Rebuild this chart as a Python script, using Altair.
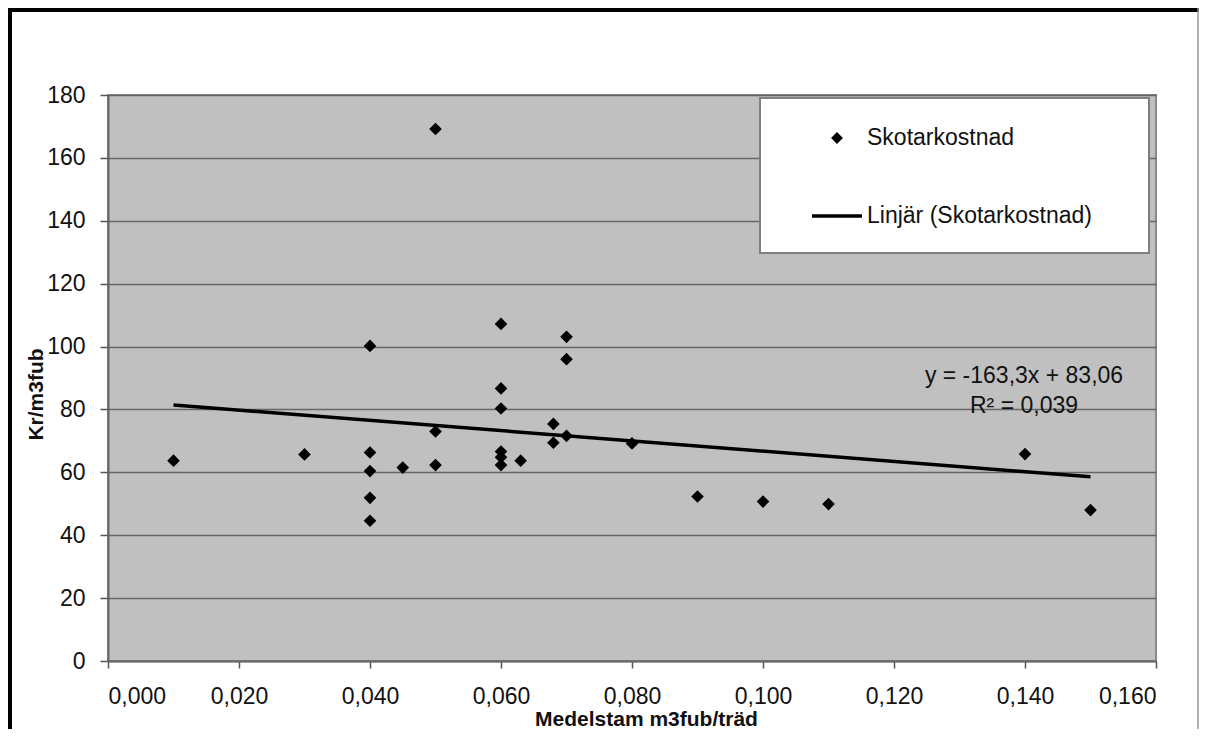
import altair as alt
import pandas as pd

# ---- data ----
x_vals = [0.010, 0.030, 0.040, 0.040, 0.040, 0.040, 0.040, 0.045,
          0.050, 0.050, 0.050, 0.060, 0.060, 0.060, 0.060, 0.060, 0.060,
          0.063, 0.068, 0.068, 0.070, 0.070, 0.070, 0.080, 0.090, 0.100,
          0.110, 0.140, 0.150]
y_vals = [63.7, 65.7, 100.2, 66.3, 60.4, 51.9, 44.6, 61.5,
          169.2, 73.0, 62.3, 107.2, 86.7, 80.3, 66.6, 64.8, 62.3,
          63.7, 75.4, 69.4, 103.1, 96.0, 71.6, 69.2, 52.3, 50.7,
          49.9, 65.8, 48.0]
trend_x = [0.010, 0.150]
trend_y = [81.43, 58.57]
x_ticks = [0.0, 0.02, 0.04, 0.06, 0.08, 0.10, 0.12, 0.14, 0.16]
y_ticks = [0, 20, 40, 60, 80, 100, 120, 140, 160, 180]
series_label = ["Skotarkostnad"]
trend_label = ["Linjär (Skotarkostnad)"]
eq_line1 = ["y = -163,3x + 83,06"]
eq_line2 = ["R² = 0,039"]
x_title = "Medelstam m3fub/träd"
y_title = "Kr/m3fub"

FONT = "Liberation Sans"
W, H = 1048, 566

pts = pd.DataFrame({"x": x_vals, "y": y_vals})
trd = pd.DataFrame({"x": trend_x, "y": trend_y})

x_enc = alt.X(
    "x:Q",
    scale=alt.Scale(domain=[0, 0.16], nice=False, zero=False),
    axis=alt.Axis(
        values=x_ticks,
        labelExpr="replace(format(datum.value, '.3f'), '.', ',')",
        grid=False,
        tickSize=7,
        labelPadding=17,
        title=x_title,
        titleX=538,
        titleY=47,
        titleAlign="center",
        titleBaseline="top",
    ),
)
y_enc = alt.Y(
    "y:Q",
    scale=alt.Scale(domain=[0, 180], nice=False),
    axis=alt.Axis(
        values=y_ticks,
        grid=True,
        tickSize=8,
        labelPadding=15,
        title=y_title,
        titleAngle=270,
        titleX=-72,
        titleY=299,
        titleAlign="center",
        titleBaseline="middle",
    ),
)

points = alt.Chart(pts).mark_point(
    shape="diamond", filled=True, color="black", size=160, opacity=1
).encode(x=x_enc, y=y_enc)

trend = alt.Chart(trd).mark_line(color="black", strokeWidth=3.5).encode(
    x="x:Q", y="y:Q"
)


def txt(lines, x, y, align="left", size=23):
    return alt.Chart(pd.DataFrame({"t": lines})).mark_text(
        font=FONT, fontSize=size, color="#111111", align=align, baseline="middle"
    ).encode(x=alt.value(x), y=alt.value(y), text="t:N")


one = pd.DataFrame({"a": [0]})

eq1 = txt(eq_line1, 916, 281, align="center")
eq2 = txt(eq_line2, 916, 311, align="center")

legend_box = alt.Chart(one).mark_rect(
    fill="white", stroke="#808080", strokeWidth=2
).encode(x=alt.value(652), x2=alt.value(1041), y=alt.value(3), y2=alt.value(158))
legend_pt = alt.Chart(one).mark_point(
    shape="diamond", filled=True, color="black", size=140, opacity=1
).encode(x=alt.value(729), y=alt.value(43))
legend_ln = alt.Chart(one).mark_rule(color="black", strokeWidth=3.5).encode(
    x=alt.value(704), x2=alt.value(754), y=alt.value(121)
)
legend_t1 = txt(series_label, 759, 43)
legend_t2 = txt(trend_label, 759, 121)

# outer frame of the figure
frame_top = alt.Chart(one).mark_rule(color="black", strokeWidth=4).encode(
    x=alt.value(-100), x2=alt.value(1091), y=alt.value(-85)
)
frame_left = alt.Chart(one).mark_rule(color="black", strokeWidth=4).encode(
    x=alt.value(-98), y=alt.value(-87), y2=alt.value(634)
)
frame_right = alt.Chart(one).mark_rule(color="#999999", strokeWidth=1.5).encode(
    x=alt.value(1090), y=alt.value(-87), y2=alt.value(634)
)

chart = alt.layer(
    points, trend, eq1, eq2,
    legend_box, legend_pt, legend_ln, legend_t1, legend_t2,
    frame_top, frame_left, frame_right,
).properties(
    width=W,
    height=H,
    padding={"left": 100, "top": 87, "right": 43, "bottom": 68},
    autosize=alt.AutoSizeParams(type="none"),
    background="white",
).configure_view(
    fill="#C0C0C0", stroke="#8a8a8a", strokeWidth=2
).configure_axis(
    labelFont=FONT,
    labelFontSize=23,
    labelColor="#111111",
    titleFont=FONT,
    titleFontSize=21,
    titleFontWeight="bold",
    titleColor="#111111",
    domainColor="#666666",
    domainWidth=2,
    tickColor="#555555",
    tickWidth=1.5,
    gridColor="#666666",
    gridWidth=1.5,
    gridOpacity=1,
)

chart.save("out.html", embed_options={"renderer": "svg", "actions": False})
